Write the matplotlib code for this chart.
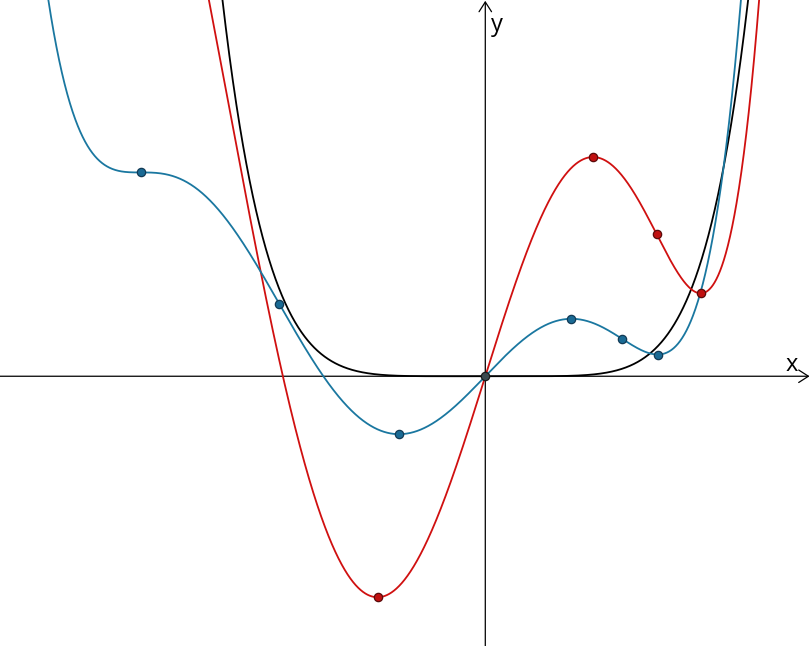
import numpy as np
import matplotlib
matplotlib.use('Agg')
import matplotlib.pyplot as plt

# roots of the blue curve's derivative (double root at -4 -> saddle point)
blue_deriv_roots = [-4, -4, -1, 1, 2]
# red curve is the blue one stretched: s^6 * f(x / s)
stretch = 1.25
# x positions of the marked points on the blue curve
blue_marks = [-4, -2.39, -1, 0, 1, 1.59, 2]
# same points mapped onto the red curve (before stretching)
red_marks = [-1, 1, 1.59, 2]

# view window (data units)
x_lo, x_hi = -5.63, 3.767
y_lo, y_hi = -96.0, 133.9

blue_poly = np.polyint(np.poly(blue_deriv_roots))
lead = blue_poly[0]


def f_blue(x):
    return np.polyval(blue_poly, x)


def f_red(x):
    return stretch ** 6 * f_blue(x / stretch)


def f_black(x):
    return lead * x ** 6


fig = plt.figure(figsize=(8.1, 6.46), dpi=100)
ax = fig.add_axes([0, 0, 1, 1])
ax.set_xlim(x_lo, x_hi)
ax.set_ylim(y_lo, y_hi)
ax.axis('off')

xs = np.linspace(x_lo, x_hi, 3000)
blue_c = '#1a77a0'
red_c = '#d01010'

# axes with open arrow heads
arr = dict(arrowstyle='->,head_length=0.7,head_width=0.45', lw=0.9, color='black',
           shrinkA=0, shrinkB=0)
ax.annotate('', xy=(x_hi - 0.005, 0), xytext=(x_lo, 0), arrowprops=arr)
ax.annotate('', xy=(0, y_hi - 0.3), xytext=(0, y_lo), arrowprops=arr)
ax.text(3.56, 3.9, 'x', fontsize=17, ha='center', va='center', family='Open Sans')
ax.text(0.13, 125.0, 'y', fontsize=17, ha='center', va='center', family='Open Sans')

ax.plot(xs, f_black(xs), color='black', lw=1.3, zorder=3)
ax.plot(xs, f_red(xs), color=red_c, lw=1.3, zorder=3)
ax.plot(xs, f_blue(xs), color=blue_c, lw=1.3, zorder=3)

bm = np.array(blue_marks)
ax.plot(bm[bm != 0], f_blue(bm[bm != 0]), 'o', ms=6, mfc='#1a6a94', mec='#123a55',
        mew=0.9, zorder=5)
rm = np.array(red_marks) * stretch
ax.plot(rm, f_red(rm), 'o', ms=6, mfc='#c01010', mec='#5a0a0a', mew=0.9, zorder=5)
ax.plot([0], [0], 'o', ms=6, mfc='#3a4a50', mec='#1a1a1a', mew=0.9, zorder=6)

fig.savefig('out.png', dpi=100)
